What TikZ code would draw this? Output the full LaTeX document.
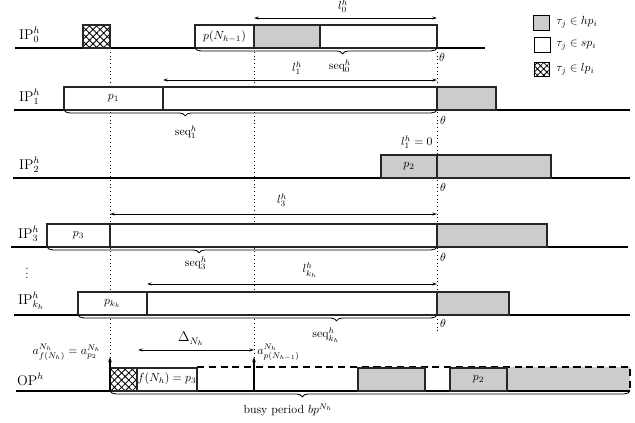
\documentclass[tikz,border=0pt]{standalone}
\usetikzlibrary{decorations.pathreplacing,patterns.meta,arrows.meta}
\newcommand{\pxu}{0.85pt}
\newcommand{\tbox}[6]{\node[#1, anchor=south west, minimum width={(#4-#3)*\pxu}, minimum height={23*\pxu}] (#2) at (#3,#5) {#6};}
\begin{document}
\begin{tikzpicture}[x=\pxu,y=-\pxu,
  tline/.style={line width=0.9pt},
  bx/.style={draw=black!85, line width=0.9pt, inner sep=0pt, outer sep=0pt},
  gbox/.style={bx, fill=black!20},
  wbox/.style={bx, fill=white},
  hbox/.style={bx, pattern={Hatch[angle=45,distance=4.3pt,line width=0.7pt]}},
  guide/.style={line width=0.7pt, dash pattern=on 0.7pt off 2.5pt},
  dimarrow/.style={{Stealth[length=4pt,width=2.6pt]}-{Stealth[length=4pt,width=2.6pt]}, line width=0.7pt},
  uparrow/.style={-{Stealth[length=4.5pt,width=3pt]}, line width=1pt},
  brc/.style={decorate, decoration={brace,mirror,amplitude=5pt,aspect=#1}, line width=0.7pt},
  lbl/.style={inner sep=1pt},
  rowlbl/.style={anchor=base west, inner sep=0pt, font=\large},
  leg/.style={draw=black, line width=1.2pt, inner sep=0pt, anchor=north west},
]
\useasboundingbox (0,0) rectangle (635,423);

% guide coordinates
\coordinate (gA1) at (110,48);  \coordinate (gA2) at (110,357);
\coordinate (gB1) at (254,48);  \coordinate (gB2) at (254,357);
\coordinate (gC1) at (437,48);  \coordinate (gC2) at (437,333);
\draw[guide] (gA1) -- (gA2);
\draw[guide] (gB1) -- (gB2);
\draw[guide] (gC1) -- (gC2);

% ---------------- row 0
\coordinate (l0a) at (15,48); \coordinate (l0b) at (485,48);
\draw[tline] (l0a) -- (l0b);
\node[rowlbl] (ip0) at (19,39) {$\mathrm{IP}^h_0$};
\tbox{hbox}{r0h}{83}{110}{48}{}
\tbox{wbox}{r0a}{195}{254}{48}{$p(N_{h-1})$}
\tbox{gbox}{r0b}{254}{320}{48}{}
\tbox{wbox}{r0c}{320}{437}{48}{}
\coordinate (d0a) at (254,18); \coordinate (d0b) at (437,18);
\draw[dimarrow] (d0a) -- (d0b);
\node[lbl] (l0lab) at (343,6) {$l^h_0$};
\draw[brc=0.61] (r0a.south west) -- (r0c.south east);
\node[lbl] (seq0) at (340,66) {$\mathrm{seq}^h_0$};
\node[lbl] (th0) at (442,57) {$\theta$};

% ---------------- row 1
\coordinate (l1a) at (14,110); \coordinate (l1b) at (630,110);
\draw[tline] (l1a) -- (l1b);
\node[rowlbl] (ip1) at (19,101) {$\mathrm{IP}^h_1$};
\tbox{wbox}{r1a}{64}{163}{110}{$p_1$}
\tbox{wbox}{r1b}{163}{437}{110}{}
\tbox{gbox}{r1c}{437}{496}{110}{}
\coordinate (d1a) at (163,80); \coordinate (d1b) at (437,80);
\draw[dimarrow] (d1a) -- (d1b);
\node[lbl] (l1lab) at (297,68) {$l^h_1$};
\draw[brc=0.325] (r1a.south west) -- (r1b.south east);
\node[lbl] (seq1) at (186,132) {$\mathrm{seq}^h_1$};
\node[lbl] (th1) at (443,120) {$\theta$};

% ---------------- row 2
\coordinate (l2a) at (13,178); \coordinate (l2b) at (630,178);
\draw[tline] (l2a) -- (l2b);
\node[rowlbl] (ip2) at (19,169) {$\mathrm{IP}^h_2$};
\tbox{gbox}{r2a}{381}{437}{178}{$p_2$}
\tbox{gbox}{r2b}{437}{551}{178}{}
\node[lbl, anchor=east] (l2lab) at (434,142) {$l^h_1=0$};
\node[lbl] (th2) at (443,187) {$\theta$};

% ---------------- row 3
\coordinate (l3a) at (11,247); \coordinate (l3b) at (628,247);
\draw[tline] (l3a) -- (l3b);
\node[rowlbl] (ip3) at (18,238) {$\mathrm{IP}^h_3$};
\tbox{wbox}{r3a}{47}{110}{247}{$p_3$}
\tbox{wbox}{r3b}{110}{437}{247}{}
\tbox{gbox}{r3c}{437}{547}{247}{}
\coordinate (d3a) at (110,214); \coordinate (d3b) at (437,214);
\draw[dimarrow] (d3a) -- (d3b);
\node[lbl] (l3lab) at (282,200) {$l^h_3$};
\draw[brc=0.39] (r3a.south west) -- (r3b.south east);
\node[lbl] (seq3) at (196,263) {$\mathrm{seq}^h_3$};
\node[lbl] (th3) at (443,257) {$\theta$};

\node[lbl] (vd) at (27,270) {$\vdots$};

% ---------------- row k_h
\coordinate (lka) at (14,315); \coordinate (lkb) at (630,315);
\draw[tline] (lka) -- (lkb);
\node[rowlbl] (ipk) at (18,304) {$\mathrm{IP}^h_{k_h}$};
\tbox{wbox}{rka}{78}{147}{315}{$p_{k_h}$}
\tbox{wbox}{rkb}{147}{437}{315}{}
\tbox{gbox}{rkc}{437}{509}{315}{}
\coordinate (dka) at (147,284); \coordinate (dkb) at (437,284);
\draw[dimarrow] (dka) -- (dkb);
\node[lbl] (lklab) at (310,270) {$l^h_{k_h}$};
\draw[brc=0.72] (rka.south west) -- (rkb.south east);
\node[lbl] (seqk) at (326,335) {$\mathrm{seq}^h_{k_h}$};
\node[lbl] (thk) at (443,323) {$\theta$};

% ---------------- OP
\coordinate (opa) at (16,391); \coordinate (opb) at (630,391);
\fill[black!20] (507,367) rectangle (630,391);
\coordinate (dsh1) at (197,367); \coordinate (dsh2) at (630,367); \coordinate (dsh3) at (630,391);
\draw[line width=0.9pt, dash pattern=on 6pt off 4pt] (dsh1) -- (dsh2) -- (dsh3);
\draw[tline] (opa) -- (opb);
\node[rowlbl] (op) at (17,385) {$\mathrm{OP}^h$};
\tbox{hbox}{oh}{110}{137}{391}{}
\tbox{wbox}{of}{137}{197}{391}{}
\node[lbl] (oflab) at (167,379) {$f(N_h)=p_3$};
\tbox{gbox}{og1}{358}{425}{391}{}
\tbox{gbox}{og2}{450}{507}{391}{$p_2$}
\coordinate (ua1) at (110,391); \coordinate (ua2) at (110,357);
\coordinate (ub1) at (254,391); \coordinate (ub2) at (254,357);
\draw[uparrow] (ua1) -- (ua2);
\draw[uparrow] (ub1) -- (ub2);
\coordinate (dDa) at (138,350); \coordinate (dDb) at (254,350);
\draw[dimarrow] (dDa) -- (dDb);
\node[lbl, font=\large] (Dlab) at (191,339) {$\Delta_{N_h}$};
\node[lbl, anchor=east] (alab) at (102,352) {$a^{N_h}_{f(N_h)}=a^{N_h}_{p_2}$};
\node[lbl, anchor=west] (blab) at (256,352) {$a^{N_h}_{p(N_{h-1})}$};
\draw[brc=0.37] (ua1) -- (opb);
\node[lbl] (bplab) at (288,410) {busy period $bp^{N_h}$};

% ---------------- legend
\node[leg, fill=black!20, minimum width={16*\pxu}, minimum height={15*\pxu}] (lg1) at (533,15) {};
\node[leg, fill=white, minimum width={16*\pxu}, minimum height={15*\pxu}] (lg2) at (534,37) {};
\node[leg, pattern={Hatch[angle=45,distance=3.8pt,line width=0.7pt]}, minimum width={15*\pxu}, minimum height={14*\pxu}] (lg3) at (534,62) {};
\node[lbl, anchor=west] (lt1) at (555,22) {$\tau_j\in hp_i$};
\node[lbl, anchor=west] (lt2) at (555,45) {$\tau_j\in sp_i$};
\node[lbl, anchor=west] (lt3) at (555,69) {$\tau_j\in lp_i$};
\end{tikzpicture}
\end{document}
